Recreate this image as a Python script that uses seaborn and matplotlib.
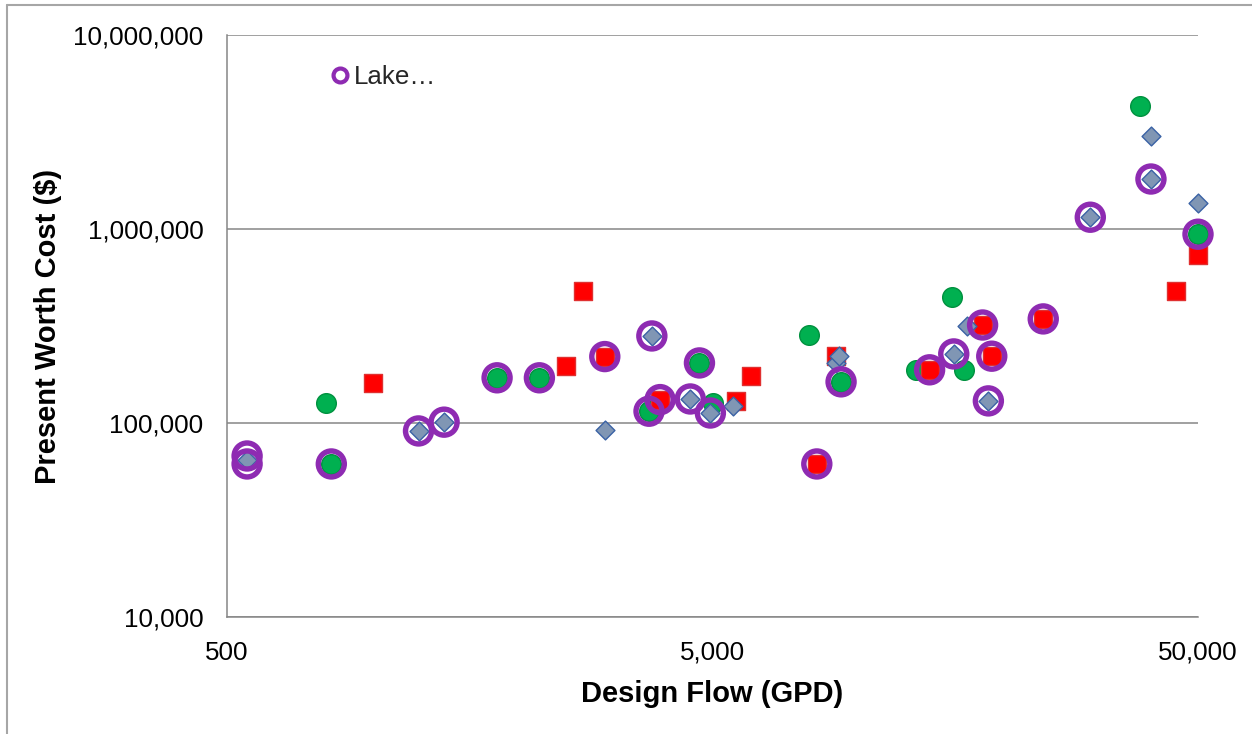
import pandas as pd
import seaborn as sns
import matplotlib.pyplot as plt
from matplotlib.lines import Line2D
from matplotlib.ticker import FuncFormatter, FixedLocator, NullLocator

# Values (flow in GPD, cost in $)
green_flow = [800, 820, 1800, 2200, 3700, 4700, 5000, 7900, 9200, 13100, 15600, 16500, 38000, 50000]
green_cost = [126500, 61500, 171000, 171000, 115000, 204000, 126500, 284000, 163000, 188000, 445000, 188000, 4300000, 940000]

red_flow = [1000, 2500, 2700, 3000, 3900, 5600, 6000, 8200, 9000, 14000, 18000, 18800, 24000, 45000, 50000]
red_cost = [161000, 197000, 479000, 220000, 132000, 130000, 175000, 61500, 221000, 188000, 320000, 221000, 344000, 479000, 734000]

blue_flow = [550, 1240, 1400, 3000, 3750, 4500, 4950, 5500, 9000, 9100, 15700, 16700, 18500, 30000, 40000, 40000, 50000]
blue_cost = [64400, 91000, 101000, 92000, 281000, 133000, 112600, 122000, 204000, 221000, 227000, 316000, 130000, 1150000, 3000000, 1810000, 1360000]

lake_flow = [550, 550, 820, 1240, 1400, 1800, 2200, 3000, 3750, 3700, 3900, 4500, 4700, 4950,
             8200, 9200, 14000, 15700, 18000, 18800, 18500, 24000, 30000, 40000, 50000]
lake_cost = [67600, 61500, 61500, 91000, 101000, 171000, 171000, 220000, 281000, 115000, 132000, 133000, 204000, 112600,
             61500, 163000, 188000, 227000, 320000, 221000, 130000, 344000, 1150000, 1810000, 940000]

sns.set_style("white")
plt.rcParams['font.family'] = ['Liberation Sans', 'DejaVu Sans']

fig = plt.figure(figsize=(12.52, 7.34), dpi=100)
ax = fig.add_axes([227 / 1252, 1 - 617 / 734, 971 / 1252, 582 / 734])

sns.scatterplot(x=green_flow, y=green_cost, ax=ax, marker='o', s=200, clip_on=False,
                color='#00B050', edgecolor='#00913F', linewidth=1, legend=False, zorder=3)
sns.scatterplot(x=red_flow, y=red_cost, ax=ax, marker='s', s=160, clip_on=False,
                color='#FF0000', edgecolor='#E03030', linewidth=1, legend=False, zorder=3)
sns.scatterplot(x=blue_flow, y=blue_cost, ax=ax, marker='D', s=92, clip_on=False,
                color='#8096B4', edgecolor='#3A62A5', linewidth=1, legend=False, zorder=4)
sns.scatterplot(x=lake_flow, y=lake_cost, ax=ax, marker='o', s=350, clip_on=False,
                facecolor='none', edgecolor='#8E2BB2', linewidth=3.9, legend=False, zorder=5)

ax.set_xscale('log')
ax.set_yscale('log')
ax.set_xlim(500, 50000)
ax.set_ylim(1e4, 1e7)

fmt = FuncFormatter(lambda v, p: f"{v:,.0f}")
ax.xaxis.set_major_locator(FixedLocator([500, 5000, 50000]))
ax.xaxis.set_minor_locator(NullLocator())
ax.yaxis.set_major_locator(FixedLocator([1e4, 1e5, 1e6, 1e7]))
ax.yaxis.set_minor_locator(NullLocator())
ax.xaxis.set_major_formatter(fmt)
ax.yaxis.set_major_formatter(fmt)

ax.grid(axis='y', color='#868686', linewidth=1.1)
ax.grid(axis='x', visible=False)
ax.set_axisbelow(True)
for side in ['top', 'right']:
    ax.spines[side].set_visible(False)
for side in ['left', 'bottom']:
    ax.spines[side].set_color('#868686')
    ax.spines[side].set_linewidth(1.1)

ax.tick_params(axis='both', length=0, labelsize=18.7, colors='black')
ax.tick_params(axis='y', pad=17)
ax.tick_params(axis='x', pad=17)

ax.set_xlabel('Design Flow (GPD)', fontsize=21, fontweight='bold', color='black')
ax.set_ylabel('Present Worth Cost ($)', fontsize=21, fontweight='bold', color='black')
ax.xaxis.set_label_coords(0.5, (617 - 680) / 582)
ax.yaxis.set_label_coords((62 - 227) / 971, 0.5)

handle = Line2D([], [], linestyle='none', marker='o', markersize=10,
                markerfacecolor='none', markeredgecolor='#8E2BB2', markeredgewidth=3)
ax.legend([handle], ['Lake…'], loc='center left', bbox_to_anchor=((327 - 227) / 971, (617 - 77) / 582),
          frameon=False, fontsize=18.7, handlelength=1.0, handletextpad=0.05, borderpad=0, borderaxespad=0)

# chart-area border (top and left visible in the crop)
fig.add_artist(Line2D([7 / 1252, 1], [1 - 5 / 734, 1 - 5 / 734], color='#A6A6A6', linewidth=1.5))
fig.add_artist(Line2D([7 / 1252, 7 / 1252], [0, 1 - 5 / 734], color='#A6A6A6', linewidth=1.5))

fig.savefig('out.png', dpi=100)
